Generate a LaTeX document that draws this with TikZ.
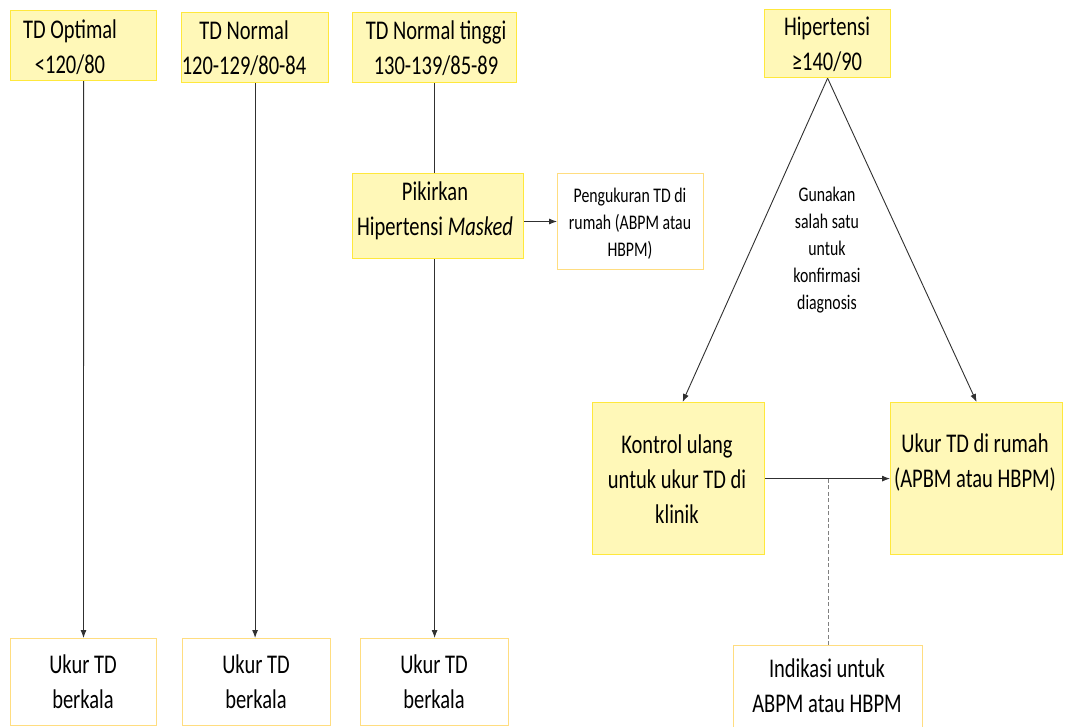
\documentclass[tikz,border=0pt]{standalone}
\usepackage{fontspec}
\setmainfont{Carlito}[FakeStretch=0.76]
\usetikzlibrary{arrows.meta}
\definecolor{yfill}{HTML}{FFF8B8}
\definecolor{yline}{HTML}{FFE83C}
\definecolor{oline}{HTML}{FFDD80}
\definecolor{ln}{HTML}{303030}
\begin{document}
\begin{tikzpicture}[x=1pt,y=-1pt,
  ybox/.style={draw=yline, fill=yfill, line width=1.2pt, inner sep=0pt, anchor=north west},
  wbox/.style={draw=oline, fill=white, line width=1pt, inner sep=0pt, anchor=north west},
  big/.style={font=\fontsize{27}{35}\selectfont, align=center, inner sep=0pt, anchor=base, text=black},
  small/.style={font=\fontsize{20.8}{27}\selectfont, align=center, inner sep=0pt, anchor=base, text=black},
  conn/.style={draw=ln, line width=0.9pt},
  arr/.style={conn, -{Latex[length=8pt,width=6pt]}},
  dashline/.style={draw=gray, line width=0.8pt, dash pattern=on 4pt off 2.5pt}]
\useasboundingbox (0,0) rectangle (1065,727);
\fill[white] (0,0) rectangle (1065,727);
\clip (0,0) rectangle (1065,727);
% top boxes
\node[ybox, minimum width=146pt, minimum height=70pt] (b1) at (10,10) {};
\node[ybox, minimum width=147pt, minimum height=70pt] (b2) at (181,12) {};
\node[ybox, minimum width=164pt, minimum height=70pt] (b3) at (352,12) {};
\node[ybox, minimum width=126pt, minimum height=68pt] (h) at (764,9) {};
\node[big] (b1t) at (70,74) {TD Optimal\\<120/80};
\node[big] (b2t) at (244,75) {TD Normal\\120-129/80-84};
\node[big] (b3t) at (436,75) {TD Normal tinggi\\130-139/85-89};
\node[big] (ht) at (827,71) {Hipertensi\\≥140/90};
% middle
\node[ybox, minimum width=171pt, minimum height=85pt] (p) at (352,173) {};
\node[big] (pt) at (435,236) {Pikirkan\\Hipertensi \textit{Masked}};
\node[wbox, minimum width=146pt, minimum height=96pt] (pg) at (557,173) {};
\node[small] (pgt) at (630,257) {Pengukuran TD di\\rumah (ABPM atau\\HBPM)};
\node[small] (gt) at (827,310) {Gunakan\\salah satu\\untuk\\konfirmasi\\diagnosis};
\node[ybox, minimum width=172pt, minimum height=152pt] (k) at (592,402) {};
\node[big] (kt) at (677,523) {Kontrol ulang\\untuk ukur TD di\\klinik};
\node[ybox, minimum width=172pt, minimum height=152pt] (r) at (890,402) {};
\node[big] (rt) at (975,487) {Ukur TD di rumah\\(APBM atau HBPM)};
% bottom
\node[wbox, minimum width=146pt, minimum height=87pt] (u1) at (10,638) {};
\node[wbox, minimum width=148pt, minimum height=87pt] (u2) at (182,638) {};
\node[wbox, minimum width=148pt, minimum height=87pt] (u3) at (360,638) {};
\node[big] (u1t) at (83,708) {Ukur TD\\berkala};
\node[big] (u2t) at (256,708) {Ukur TD\\berkala};
\node[big] (u3t) at (434,708) {Ukur TD\\berkala};
\node[wbox, minimum width=189pt, minimum height=100pt] (ind) at (733,645) {};
\node[big] (indt) at (827,712) {Indikasi untuk\\ABPM atau HBPM};
% connectors
\draw[arr] (b1.south) -- (u1.north);
\draw[arr] (b2.south) -- (b2.south |- u2.north);
\draw[conn] (b3.south) -- (b3.south |- p.north);
\draw[arr] (b3.south |- p.south) -- (b3.south |- u3.north);
\draw[arr] (p.east |- pg.west) -- (pg.west);
\draw[arr] (h.south) -- ([xshift=4pt]k.north);
\draw[arr] (h.south) -- (r.north);
\draw[arr] (k.east) -- (r.west);
\draw[dashline] (ind.north) -- (ind.north |- k.east);
\end{tikzpicture}
\end{document}
